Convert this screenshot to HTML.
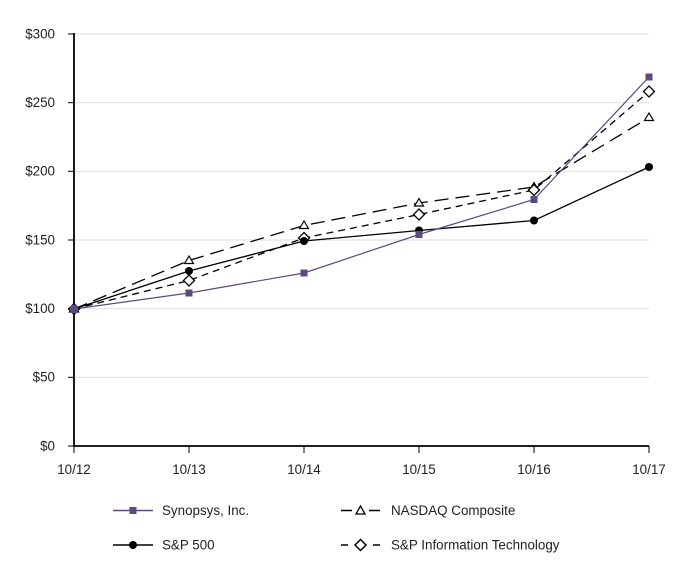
<!DOCTYPE html>
<html>
<head>
<meta charset="utf-8">
<style>
  html, body { margin: 0; padding: 0; background: #fff; }
  svg { display: block; }
  text { font-family: "Liberation Sans", Arial, sans-serif; font-size: 13.4px; fill: #222; }
</style>
</head>
<body>
<svg width="682" height="581" viewBox="0 0 682 581" xmlns="http://www.w3.org/2000/svg">
  <!-- gridlines -->
  <g stroke="#e3e3e3" stroke-width="1.2">
    <line x1="74" y1="34" x2="649" y2="34"/>
    <line x1="74" y1="102.7" x2="649" y2="102.7"/>
    <line x1="74" y1="171.3" x2="649" y2="171.3"/>
    <line x1="74" y1="240" x2="649" y2="240"/>
    <line x1="74" y1="308.7" x2="649" y2="308.7"/>
    <line x1="74" y1="377.3" x2="649" y2="377.3"/>
  </g>
  <!-- axes -->
  <g stroke="#000" stroke-width="1.8">
    <line x1="74" y1="33" x2="74" y2="446"/>
    <line x1="73" y1="446" x2="649" y2="446"/>
  </g>
  <g stroke="#000" stroke-width="1">
    <line x1="68" y1="34" x2="74" y2="34"/>
    <line x1="68" y1="102.7" x2="74" y2="102.7"/>
    <line x1="68" y1="171.3" x2="74" y2="171.3"/>
    <line x1="68" y1="240" x2="74" y2="240"/>
    <line x1="68" y1="308.7" x2="74" y2="308.7"/>
    <line x1="68" y1="377.3" x2="74" y2="377.3"/>
    <line x1="68" y1="446" x2="74" y2="446"/>
    <line x1="74" y1="446" x2="74" y2="453"/>
    <line x1="189" y1="446" x2="189" y2="453"/>
    <line x1="304" y1="446" x2="304" y2="453"/>
    <line x1="419" y1="446" x2="419" y2="453"/>
    <line x1="534" y1="446" x2="534" y2="453"/>
    <line x1="649" y1="446" x2="649" y2="453"/>
  </g>
  <!-- y labels -->
  <g text-anchor="end">
    <text x="55" y="38.5">$300</text>
    <text x="55" y="107">$250</text>
    <text x="55" y="175.5">$200</text>
    <text x="55" y="244.5">$150</text>
    <text x="55" y="313">$100</text>
    <text x="55" y="381.5">$50</text>
    <text x="55" y="450.5">$0</text>
  </g>
  <!-- x labels -->
  <g text-anchor="middle">
    <text x="74" y="474">10/12</text>
    <text x="189" y="474">10/13</text>
    <text x="304" y="474">10/14</text>
    <text x="419" y="474">10/15</text>
    <text x="534" y="474">10/16</text>
    <text x="649" y="474">10/17</text>
  </g>

  <!-- NASDAQ -->
  <polyline fill="none" stroke="#000" stroke-width="1.3" stroke-dasharray="14,7"
    points="74,309 189,260.5 304,225.5 419,203 534,187 649,117.5"/>
  <!-- S&P IT -->
  <polyline fill="none" stroke="#000" stroke-width="1.3" stroke-dasharray="7,5"
    points="74,309 189,280.5 304,238 419,214.5 534,190 649,91.5"/>
  <!-- S&P 500 -->
  <polyline fill="none" stroke="#000" stroke-width="1.3"
    points="74,309 189,271 304,241 419,230.5 534,220.5 649,167"/>
  <!-- Synopsys -->
  <polyline fill="none" stroke="#5b4a80" stroke-width="1.2"
    points="74,309 189,293 304,273 419,234.5 534,199.5 649,77"/>

  <!-- NASDAQ markers (triangles) -->
  <g fill="#fff" stroke="#000" stroke-width="1.2">
    <polygon points="74,304.5 78.5,312 69.5,312"/>
    <polygon points="189,256 193.5,263.5 184.5,263.5"/>
    <polygon points="304,221 308.5,228.5 299.5,228.5"/>
    <polygon points="419,198.5 423.5,206 414.5,206"/>
    <polygon points="534,182.5 538.5,190 529.5,190"/>
    <polygon points="649,113 653.5,120.5 644.5,120.5"/>
  </g>
  <!-- S&P IT markers (diamonds) -->
  <g fill="#fff" stroke="#000" stroke-width="1.3">
    <polygon points="74,303.5 79.5,309 74,314.5 68.5,309"/>
    <polygon points="189,275 194.5,280.5 189,286 183.5,280.5"/>
    <polygon points="304,232.5 309.5,238 304,243.5 298.5,238"/>
    <polygon points="419,209 424.5,214.5 419,220 413.5,214.5"/>
    <polygon points="534,184.5 539.5,190 534,195.5 528.5,190"/>
    <polygon points="649,86 654.5,91.5 649,97 643.5,91.5"/>
  </g>
  <!-- S&P 500 markers -->
  <g fill="#000">
    <circle cx="74" cy="309" r="4"/>
    <circle cx="189" cy="271" r="4"/>
    <circle cx="304" cy="241" r="4"/>
    <circle cx="419" cy="230.5" r="4"/>
    <circle cx="534" cy="220.5" r="4"/>
    <circle cx="649" cy="167" r="4"/>
  </g>
  <!-- Synopsys markers -->
  <g fill="#5b4a80">
    <circle cx="74" cy="309" r="4.5"/>
    <rect x="185.5" y="289.5" width="7" height="7"/>
    <rect x="300.5" y="269.5" width="7" height="7"/>
    <rect x="415.5" y="231" width="7" height="7"/>
    <rect x="530.5" y="196" width="7" height="7"/>
    <rect x="645.5" y="73.5" width="7" height="7"/>
  </g>

  <!-- Legend -->
  <line x1="113" y1="510.5" x2="153" y2="510.5" stroke="#5b4a80" stroke-width="1.5"/>
  <rect x="129.5" y="507" width="7" height="7" fill="#5b4a80"/>
  <text x="162" y="515">Synopsys, Inc.</text>

  <line x1="113" y1="545" x2="153" y2="545" stroke="#000" stroke-width="1.5"/>
  <circle cx="133" cy="545" r="4" fill="#000"/>
  <text x="162" y="549.5">S&amp;P 500</text>

  <line x1="341" y1="510.5" x2="352" y2="510.5" stroke="#000" stroke-width="1.5"/>
  <line x1="369" y1="510.5" x2="380" y2="510.5" stroke="#000" stroke-width="1.5"/>
  <polygon points="360.5,506 365,514 356,514" fill="#fff" stroke="#000" stroke-width="1.3"/>
  <text x="391" y="515">NASDAQ Composite</text>

  <line x1="341" y1="545" x2="348" y2="545" stroke="#000" stroke-width="1.5"/>
  <line x1="373" y1="545" x2="380" y2="545" stroke="#000" stroke-width="1.5"/>
  <polygon points="360.5,539.5 366,545 360.5,550.5 355,545" fill="#fff" stroke="#000" stroke-width="1.5"/>
  <text x="391" y="549.5">S&amp;P Information Technology</text>
</svg>
</body>
</html>
